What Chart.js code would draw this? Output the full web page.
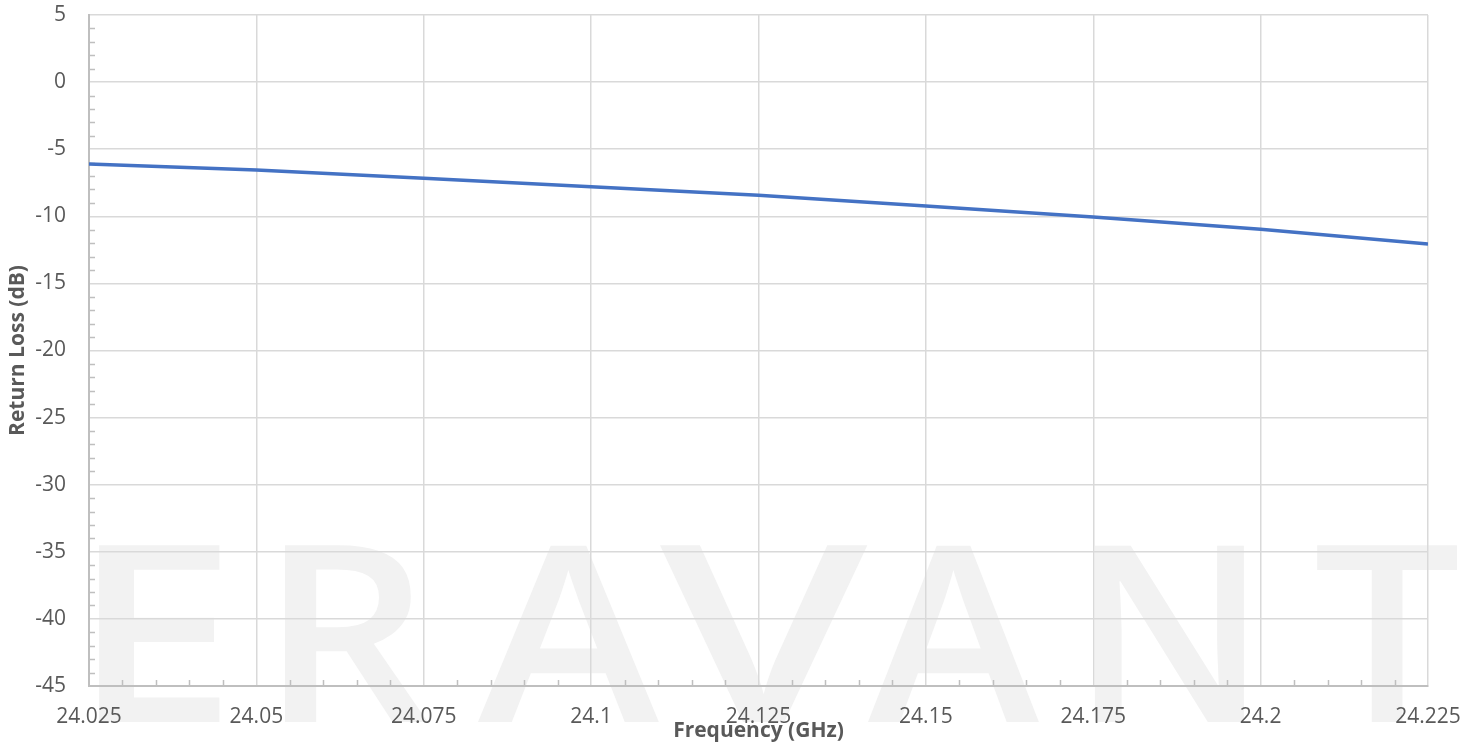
<!DOCTYPE html>
<html><head><meta charset="utf-8">
<script src="https://cdn.jsdelivr.net/npm/chart.js@4.4.1/dist/chart.umd.min.js"></script>
<style>html,body{margin:0;padding:0;background:#fff;overflow:hidden}</style>
</head><body>
<canvas id="c" width="1479" height="747" style="display:block;width:1479px;height:747px"></canvas>
<script>
// ---- data ----
const frequencies = [24.025, 24.05, 24.075, 24.1, 24.125, 24.15, 24.175, 24.2, 24.225];
const returnLoss  = [-6.10, -6.55, -7.17, -7.79, -8.44, -9.23, -10.05, -10.97, -12.06];
const xTickValues = [24.025, 24.05, 24.075, 24.1, 24.125, 24.15, 24.175, 24.2, 24.225];
const yTickValues = [5, 0, -5, -10, -15, -20, -25, -30, -35, -40, -45];
const xTitle = "Frequency (GHz)";
const yTitle = "Return Loss (dB)";
const watermarkText = "ERAVANT";

const TEXT = '#595959';
const FONT = '"Open Sans", "Liberation Sans", sans-serif';

const watermark = {
  id: 'watermark',
  beforeDraw(chart) {
    const ctx = chart.ctx;
    ctx.save();
    ctx.fillStyle = '#ffffff';
    ctx.fillRect(0, 0, chart.width, chart.height);
    const boxes = [[98,220],[284,429],[478,660],[660,868],[868,1040],[1094,1244],[1316,1457]];
    const top = 545, bottom = 722;
    ctx.fillStyle = '#f2f2f2';
    ctx.font = '600 200px "Open Sans"';
    ctx.textAlign = 'left';
    ctx.textBaseline = 'alphabetic';
    [...watermarkText].forEach((ch, i) => {
      const m = ctx.measureText(ch);
      const gw = m.actualBoundingBoxLeft + m.actualBoundingBoxRight;
      const gh = m.actualBoundingBoxAscent + m.actualBoundingBoxDescent;
      const [x0, x1] = boxes[i];
      ctx.save();
      ctx.translate(x0, top);
      ctx.scale((x1 - x0) / gw, (bottom - top) / gh);
      ctx.fillText(ch, m.actualBoundingBoxLeft, m.actualBoundingBoxAscent);
      ctx.restore();
    });
    ctx.restore();
  }
};

const minorTicks = {
  id: 'minorTicks',
  beforeDatasetsDraw(chart) {
    const ctx = chart.ctx;
    const xs = chart.scales.x, ys = chart.scales.y;
    const a = chart.chartArea;
    ctx.save();
    ctx.strokeStyle = '#bfbfbf';
    ctx.lineWidth = 1.5;
    ctx.beginPath();
    for (let v = -45; v <= 5; v++) {
      if (v % 5 === 0) continue;
      const y = Math.round(ys.getPixelForValue(v)) + 0.5;
      ctx.moveTo(a.left, y); ctx.lineTo(a.left + 6, y);
    }
    for (let k = 0; k <= 40; k++) {
      if (k % 5 === 0) continue;
      const x = Math.round(xs.getPixelForValue(24.025 + k * 0.005)) + 0.5;
      ctx.moveTo(x, a.bottom); ctx.lineTo(x, a.bottom - 6);
    }
    ctx.stroke();
    ctx.restore();
  }
};

new Chart(document.getElementById('c'), {
  type: 'line',
  data: {
    datasets: [{
      data: frequencies.map((f, i) => ({x: f, y: returnLoss[i]})),
      borderColor: '#4472C4',
      borderWidth: 3.5,
      pointRadius: 0,
      tension: 0,
      fill: false
    }]
  },
  options: {
    responsive: false,
    animation: false,
    devicePixelRatio: 1,
    layout: {padding: {top: 15, right: 51, left: 0, bottom: 0}},
    plugins: {legend: {display: false}, tooltip: {enabled: false}},
    scales: {
      x: {
        type: 'linear',
        min: 24.025, max: 24.225,
        afterBuildTicks: s => { s.ticks = xTickValues.map(v => ({value: v})); },
        afterFit: s => { s.height = 61; s.paddingLeft = 0; s.paddingRight = 0; },
        grid: {color: '#d9d9d9', lineWidth: 1.5, drawTicks: false},
        border: {color: '#bfbfbf', width: 2},
        ticks: {
          color: TEXT, font: {family: FONT, size: 21}, padding: 18, maxRotation: 0, autoSkip: false,
          callback: v => String(parseFloat(Number(v).toFixed(3)))
        },
        title: {display: true, text: xTitle, color: TEXT, font: {family: FONT, size: 21, weight: 'bold'}, padding: {top: 0, bottom: 3}}
      },
      y: {
        type: 'linear',
        min: -45, max: 5,
        afterBuildTicks: s => { s.ticks = yTickValues.map(v => ({value: v})); },
        afterFit: s => { s.width = 89; s.paddingTop = 0; s.paddingBottom = 0; },
        grid: {color: '#d9d9d9', lineWidth: 1.5, drawTicks: false},
        border: {color: '#bfbfbf', width: 2},
        ticks: {color: TEXT, font: {family: FONT, size: 21}, padding: 23, autoSkip: false},
        title: {display: true, text: yTitle, color: TEXT, font: {family: FONT, size: 21, weight: 'bold'}, padding: {top: 5, bottom: 0}}
      }
    }
  },
  plugins: [watermark, minorTicks]
});
</script>
</body></html>
